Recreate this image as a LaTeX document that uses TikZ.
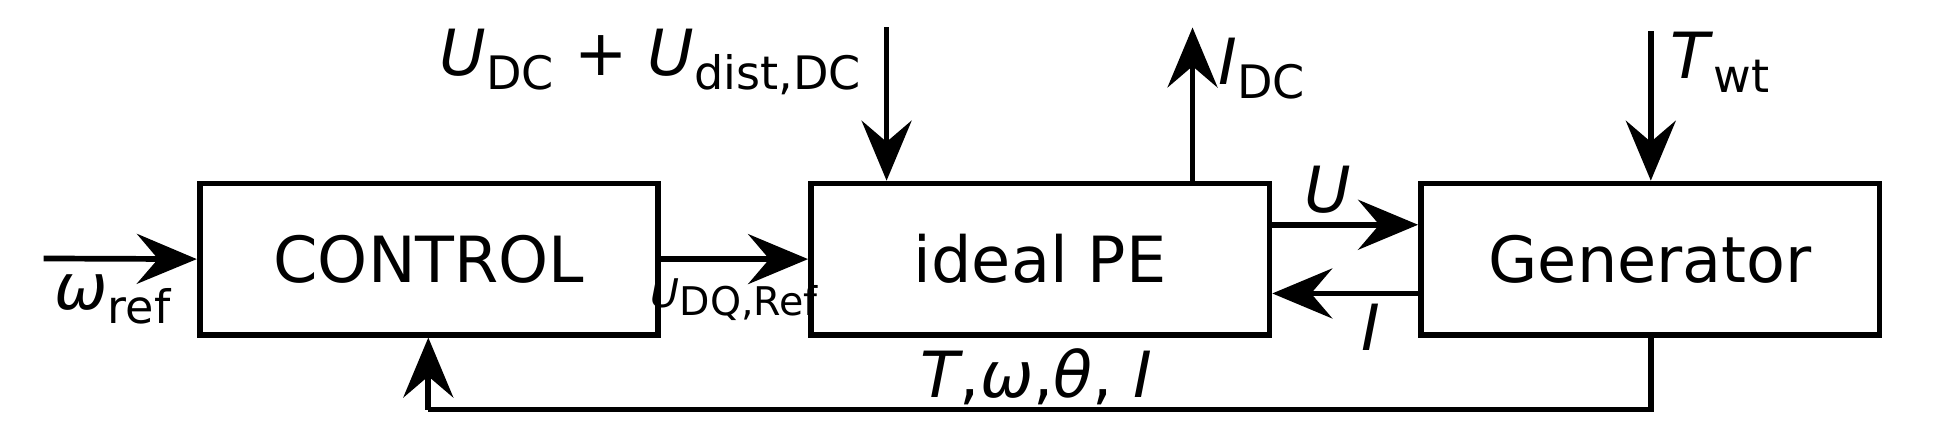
\documentclass[tikz,border=0pt]{standalone}
\usepackage{fontspec}
\setmainfont{DejaVu Sans}
\usetikzlibrary{arrows.meta}
\newcommand{\sbs}[1]{\raisebox{-0.4ex}{\fontsize{10.5}{12}\selectfont #1}}
\begin{document}
\begin{tikzpicture}[x=0.01cm,y=-0.01cm,
  box/.style={draw,line width=1.3pt,minimum width=3.67cm,minimum height=1.21cm,inner sep=0pt,font=\fontsize{14.5}{17}\selectfont},
  arr/.style={line width=1.3pt,-{Stealth[length=0.48cm,width=0.4cm,inset=0.17cm]}},
  ln/.style={line width=1.3pt},
  lbl/.style={font=\fontsize{14.5}{17}\selectfont,inner sep=0pt}]
\useasboundingbox (0,0) rectangle (1560,355.6);
\node[box] (ctrl) at (343.5,207.5) {CONTROL};
\node[box] (pe) at (833,207.5) {ideal PE};
\node[box] (gen) at (1321.5,207.5) {Generator};
\coordinate (win) at (35,207);
\coordinate (udc) at (710,22);
\coordinate (idc) at (955,22);
\coordinate (twt) at (1322,25);
\coordinate (fb1) at (1322,328);
\coordinate (fb2) at (343,328);
\draw[arr] (win) -- (ctrl.west);
\draw[arr] (ctrl.east) -- (pe.west);
\draw[arr] (udc) -- (udc|-pe.north);
\draw[arr] (idc|-pe.north) -- (idc);
\draw[arr] (twt) -- (twt|-gen.north);
\draw[arr] (pe.east|-0,180) -- (gen.west|-0,180);
\draw[arr] (gen.west|-0,235) -- (pe.east|-0,235);
\draw[ln] (fb1|-gen.south) -- (fb1) -- (fb2);
\draw[arr] (fb2) -- (fb2|-ctrl.south);
\node[lbl] (l1) at (90,240) {\textit{ω}\sbs{ref}};
\node[lbl] (l2) at (588,240) {\fontsize{9}{10}\selectfont\textit{U}\raisebox{-0.4ex}{DQ,Ref}};
\node[lbl,anchor=east] (l3) at (690,50) {\textit{U}\sbs{DC} + \textit{U}\sbs{dist,DC}};
\node[lbl,anchor=west] (l4) at (975,55) {\textit{I}\sbs{DC}};
\node[lbl,anchor=west] (l5) at (1337,50) {\textit{T}\sbs{wt}};
\node[lbl] (l6) at (1063,152) {\textit{U}};
\node[lbl] (l7) at (1098,262) {\textit{I}};
\node[lbl] (l8) at (830,302) {\textit{T},\textit{ω},\textit{θ}, \textit{I}};
\end{tikzpicture}
\end{document}
